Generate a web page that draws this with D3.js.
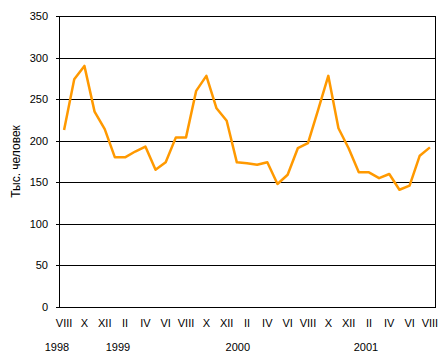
<!DOCTYPE html>
<html>
<head>
<meta charset="utf-8">
<script src="https://cdn.jsdelivr.net/npm/d3@7"></script>
<style>
  body { margin: 0; background: #fff; }
  text { font-family: "Liberation Sans", Arial, sans-serif; }
</style>
</head>
<body>
<svg id="chart" width="447" height="359"></svg>
<script>
// months VIII 1998 .. VIII 2001
var months = ["VIII","IX","X","XI","XII","I","II","III","IV","V","VI","VII",
              "VIII","IX","X","XI","XII","I","II","III","IV","V","VI","VII",
              "VIII","IX","X","XI","XII","I","II","III","IV","V","VI","VII","VIII"];
var values = [213, 274, 290, 235, 214, 180, 180, 187, 193, 165, 174, 204,
              204, 260, 278, 239, 224, 174, 173, 171, 174, 148, 159, 191,
              197, 237, 278, 215, 191, 162, 162, 155, 160, 141, 146, 182, 192];
var yTicks = [0, 50, 100, 150, 200, 250, 300, 350];
// year labels, placed at a (fractional) month index
var years = ["1998", "1999", "2000", "2001"];
var yearAt = [-0.7, 5.3, 17.1, 29.7];

var svg = d3.select("#chart");
//plot area (note: "top" is reserved by window, so prefixed names)
var plotLeft = 59, plotRight = 435, plotTop = 16, plotBottom = 307;

var x = d3.scaleBand()
    .domain(d3.range(months.length))
    .range([plotLeft, plotRight]);
var y = d3.scaleLinear()
    .domain([0, 350])
    .range([plotBottom, plotTop]);

//horizontal grid lines with small outward ticks
svg.selectAll(".grid")
    .data(yTicks)
    .enter().append("line")
    .attr("x1", plotLeft - 3)
    .attr("x2", plotRight)
    .attr("y1", function(d) { return Math.round(y(d)) + 0.5; })
    .attr("y2", function(d) { return Math.round(y(d)) + 0.5; })
    .attr("stroke", "black")
    .attr("stroke-width", 1);

//left and right border
svg.append("line")
    .attr("x1", plotLeft + 0.5).attr("x2", plotLeft + 0.5)
    .attr("y1", Math.round(y(350))).attr("y2", Math.round(y(0)) + 1)
    .attr("stroke", "black");
svg.append("line")
    .attr("x1", plotRight + 0.5).attr("x2", plotRight + 0.5)
    .attr("y1", Math.round(y(350))).attr("y2", Math.round(y(0)) + 1)
    .attr("stroke", "black");

//y tick labels
svg.selectAll(".ylab")
    .data(yTicks)
    .enter().append("text")
    .attr("x", 48)
    .attr("y", function(d) { return y(d) + 4; })
    .attr("text-anchor", "end")
    .attr("font-size", "11px")
    .attr("fill", "black")
    .text(function(d) { return d; });

//y axis title
svg.append("text")
    .attr("transform", "translate(20," + ((plotTop + plotBottom) / 2) + ") rotate(-90)")
    .attr("text-anchor", "middle")
    .attr("font-size", "12px")
    .attr("fill", "black")
    .text("Тыс. человек");

//month labels, every second month
svg.selectAll(".mlab")
    .data(months)
    .enter().append("text")
    .filter(function(d, i) { return i % 2 == 0; })
    .attr("x", function(d, i) { return x(i * 2) + x.bandwidth() / 2; })
    .attr("y", 327)
    .attr("text-anchor", "middle")
    .attr("font-size", "11px")
    .attr("fill", "black")
    .text(function(d) { return d; });

//year labels
svg.selectAll(".ylabel")
    .data(years)
    .enter().append("text")
    .attr("x", function(d, i) { return x(0) + x.bandwidth() / 2 + yearAt[i] * x.step(); })
    .attr("y", 351)
    .attr("text-anchor", "middle")
    .attr("font-size", "11px")
    .attr("fill", "black")
    .text(function(d) { return d; });

//data line
var line = d3.line()
    .x(function(d, i) { return x(i) + x.bandwidth() / 2; })
    .y(function(d) { return y(d); });

svg.append("path")
    .datum(values)
    .attr("d", line)
    .attr("fill", "none")
    .attr("stroke", "#FF9900")
    .attr("stroke-width", 2.5)
    .attr("stroke-linejoin", "round");
</script>
</body>
</html>
